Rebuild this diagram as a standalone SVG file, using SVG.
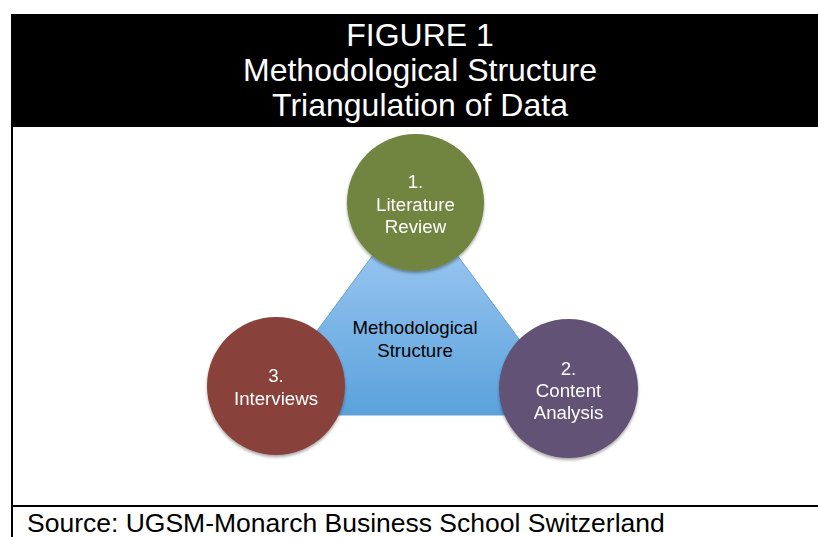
<svg xmlns="http://www.w3.org/2000/svg" width="818" height="537" viewBox="0 0 818 537">
  <defs>
    <linearGradient id="triFill" x1="0" y1="0" x2="0" y2="1">
      <stop offset="0" stop-color="#aacff5"/>
      <stop offset="1" stop-color="#5aa2dc"/>
    </linearGradient>
    <filter id="shadow" x="-20%" y="-20%" width="140%" height="150%">
      <feGaussianBlur in="SourceAlpha" stdDeviation="1.6"/>
      <feOffset dx="0" dy="2" result="b"/>
      <feComponentTransfer><feFuncA type="linear" slope="0.35"/></feComponentTransfer>
      <feMerge><feMergeNode/><feMergeNode in="SourceGraphic"/></feMerge>
    </filter>
    <style>
      .title { font-family: "Liberation Sans", Arial, sans-serif; font-size: 32px; fill: #ffffff; text-anchor: middle; }
      .label { font-family: "Liberation Sans", Arial, sans-serif; font-size: 18.7px; fill: #ffffff; text-anchor: middle; }
      .center { font-family: "Liberation Sans", Arial, sans-serif; font-size: 18.6px; fill: #000000; text-anchor: middle; }
      .source { font-family: "Liberation Sans", Arial, sans-serif; font-size: 26.5px; fill: #000000; }
      .rule { fill: #000000; }
    </style>
  </defs>

  <rect width="818" height="537" fill="#ffffff"/>

  <!-- header band -->
  <g id="header">
    <rect class="rule" x="11" y="14" width="807" height="113"/>
    <text class="title" x="420" y="46">FIGURE 1</text>
    <text class="title" x="420" y="81">Methodological Structure</text>
    <text class="title" x="420" y="116">Triangulation of Data</text>
  </g>

  <!-- frame rules -->
  <g id="frame">
    <rect class="rule" x="11" y="127" width="2" height="410"/>
    <rect class="rule" x="11" y="505" width="807" height="2"/>
  </g>

  <!-- central triangle -->
  <g id="methodological-structure">
    <polygon points="415,198 255,415 575,415" fill="url(#triFill)" stroke="#6a9fd2" stroke-width="1"/>
    <text class="center" x="415" y="334">Methodological</text>
    <text class="center" x="415" y="357">Structure</text>
  </g>

  <!-- source circles -->
  <g id="literature-review" filter="url(#shadow)">
    <circle cx="415.5" cy="202.5" r="68.5" fill="#71843f"/>
    <text class="label" x="415.5" y="188">1.</text>
    <text class="label" x="415.5" y="211">Literature</text>
    <text class="label" x="415.5" y="233">Review</text>
  </g>

  <g id="content-analysis" filter="url(#shadow)">
    <circle cx="568.5" cy="388.5" r="69.5" fill="#625276"/>
    <text class="label" x="568.5" y="375">2.</text>
    <text class="label" x="568.5" y="397">Content</text>
    <text class="label" x="568.5" y="419">Analysis</text>
  </g>

  <g id="interviews" filter="url(#shadow)">
    <circle cx="276" cy="386" r="69" fill="#88433b"/>
    <text class="label" x="276" y="382">3.</text>
    <text class="label" x="276" y="405">Interviews</text>
  </g>

  <!-- caption -->
  <g id="source">
    <text class="source" x="27" y="532">Source: UGSM-Monarch Business School Switzerland</text>
  </g>
</svg>
